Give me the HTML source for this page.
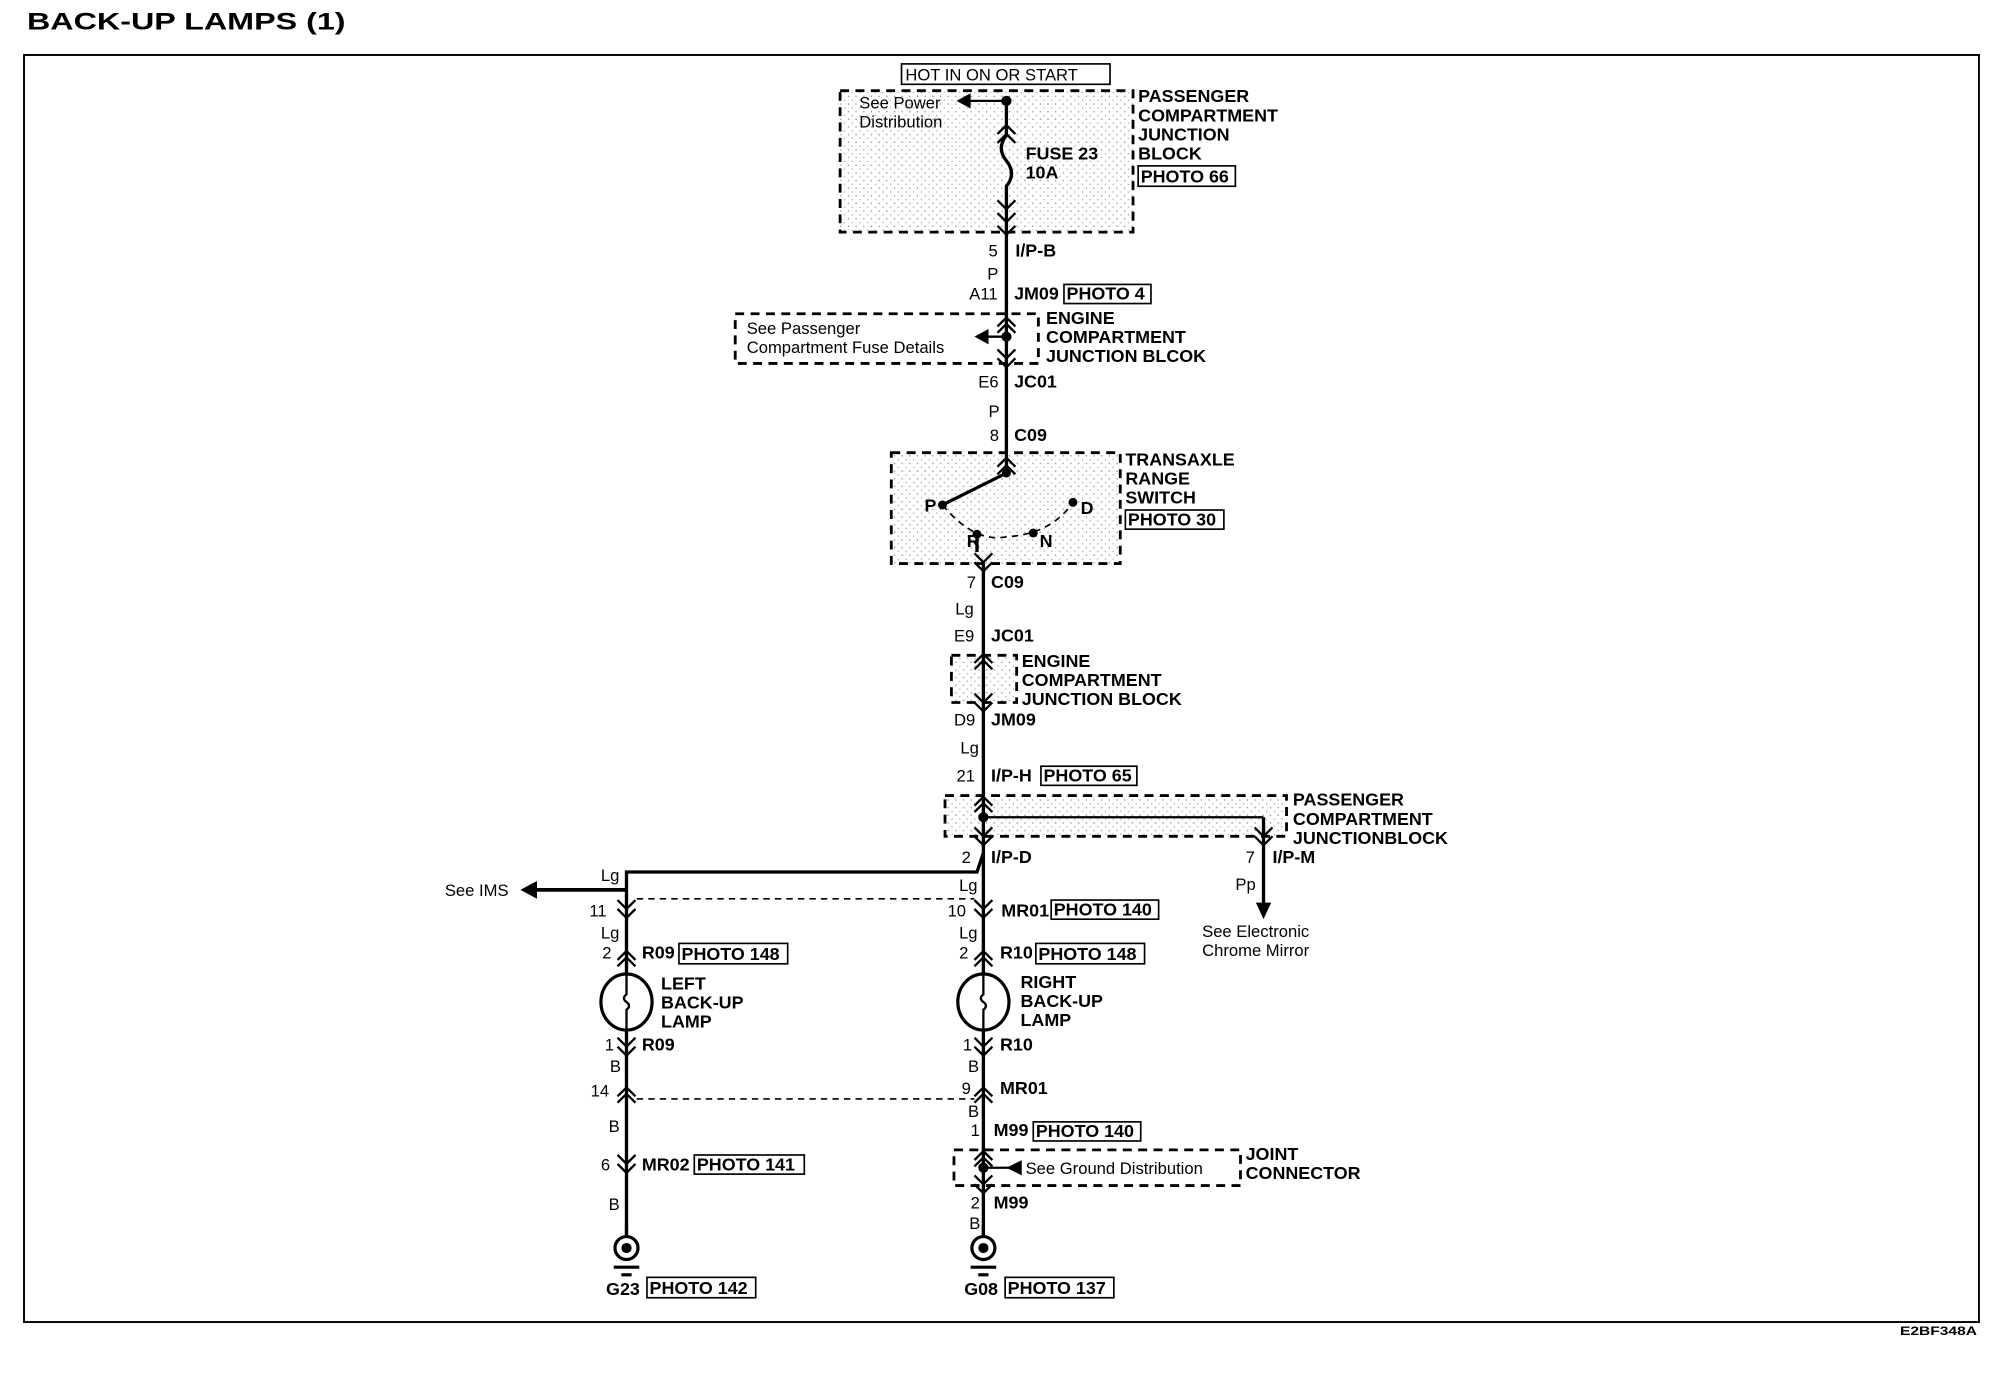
<!DOCTYPE html>
<html><head><meta charset="utf-8"><style>
html,body{margin:0;padding:0;background:#fff;}
svg{display:block;}
text{font-family:"Liberation Sans Narrow","Liberation Sans",sans-serif;fill:#000;}
.b{font-weight:bold;font-size:14px;}
.n{font-size:13px;}
</style></head><body>
<svg width="2004" height="1376" viewBox="0 0 1560 1071" preserveAspectRatio="none" xmlns="http://www.w3.org/2000/svg">
<defs>
<pattern id="dots" width="6" height="6" patternUnits="userSpaceOnUse">
<rect x="1" y="2" width="1" height="1" fill="#888"/><rect x="4" y="5" width="1" height="1" fill="#aaa"/>
</pattern>
</defs>
<text x="21" y="23" style="font-weight:bold;font-size:19px" textLength="248" lengthAdjust="spacingAndGlyphs">BACK-UP LAMPS (1)</text>
<rect x="18.7" y="42.8" width="1521.8" height="986.2" fill="none" stroke="#000" stroke-width="1.5"/>
<text x="1479" y="1039" style="font-weight:bold;font-size:9px" textLength="60" lengthAdjust="spacingAndGlyphs">E2BF348A</text>

<g transform="matrix(0.99575 0 0 0.9921 1.77 1.13)">
<g fill="none" stroke="#000" stroke-width="2.2" stroke-dasharray="7,5">
<rect x="655" y="70" width="229" height="111" fill="url(#dots)"/>
<rect x="573" y="245" width="237" height="39"/>
<rect x="695" y="354" width="179" height="87" fill="url(#dots)"/>
<rect x="742" y="513" width="51" height="37" fill="url(#dots)"/>
<rect x="737" y="623" width="267" height="32" fill="url(#dots)"/>
<rect x="744" y="901" width="224" height="28"/>
</g>
<g fill="none" stroke="#000" stroke-width="1.3" stroke-dasharray="5,4">
<line x1="496" y1="704" x2="760" y2="704"/>
<line x1="496" y1="861" x2="760" y2="861"/>
<path d="M735 395 Q760 425 785 420 Q820 418 837 393"/>
</g>

<g fill="none" stroke="#000" stroke-width="2.6">
<line x1="785" y1="78" x2="785" y2="105"/>
<path d="M785 105 q-8 10 0 20 q8 10 0 20 v35"/>
<line x1="785" y1="180" x2="785" y2="370"/>
<line x1="785" y1="370" x2="735" y2="395"/>
<line x1="762" y1="418" x2="762" y2="432"/>
<line x1="767" y1="440" x2="767" y2="980"/>
<path d="M767 668 L762 683 L488 683 L488 980"/>
<line x1="767" y1="640" x2="986" y2="640" stroke-width="1.8"/>
<line x1="986" y1="640" x2="986" y2="712"/>
<line x1="785" y1="78" x2="755" y2="78" stroke-width="1.8"/>
<line x1="785" y1="263" x2="770" y2="263" stroke-width="1.8"/>
<line x1="488" y1="697" x2="418" y2="697" stroke-width="3"/>
<line x1="767" y1="915" x2="790" y2="915" stroke-width="1.8"/>
</g>
<g fill="#000">
<circle cx="785" cy="78" r="4"/><circle cx="785" cy="263" r="4"/><circle cx="785" cy="370" r="3.5"/>
<circle cx="735" cy="395" r="3.5"/><circle cx="837" cy="393" r="3.5"/><circle cx="762" cy="418" r="3.5"/><circle cx="806" cy="417" r="3.5"/>
<circle cx="767" cy="640" r="4"/><circle cx="767" cy="915" r="4"/>
<polygon points="746,78 757,72 757,84"/>
<polygon points="760,263 771,257 771,269"/>
<polygon points="405,697 418,690 418,704"/>
<polygon points="986,720 980,707 992,707"/>
<polygon points="785,915 797,909 797,921"/>
</g>

<g fill="none" stroke="#000" stroke-width="1.8">
<path d="M778 104 l7 -7 l7 7 M778 111 l7 -7 l7 7"/>
<path d="M778 156 l7 7 l7 -7 M778 166 l7 7 l7 -7 M778 176 l7 7 l7 -7"/>
<path d="M778 255 l7 -7 l7 7 M778 260 l7 -7 l7 7"/>
<path d="M778 273 l7 7 l7 -7 M778 280 l7 7 l7 -7"/>
<path d="M778 365 l7 -7 l7 7 M778 371 l7 -7 l7 7"/>
<path d="M760 433 l7 7 l7 -7 M760 440 l7 7 l7 -7"/>
<path d="M760 519 l7 -7 l7 7 M760 524 l7 -7 l7 7"/>
<path d="M760 543 l7 7 l7 -7 M760 550 l7 7 l7 -7"/>
<path d="M760 631 l7 -7 l7 7 M760 636 l7 -7 l7 7"/>
<path d="M760 648 l7 7 l7 -7 M760 655 l7 7 l7 -7"/>
<path d="M979 648 l7 7 l7 -7 M979 655 l7 7 l7 -7"/>
<path d="M481 705 l7 7 l7 -7 M481 712 l7 7 l7 -7"/>
<path d="M760 705 l7 7 l7 -7 M760 712 l7 7 l7 -7"/>
<path d="M481 752 l7 -7 l7 7 M481 757 l7 -7 l7 7"/>
<path d="M760 752 l7 -7 l7 7 M760 757 l7 -7 l7 7"/>
<path d="M481 813 l7 7 l7 -7 M481 820 l7 7 l7 -7"/>
<path d="M760 813 l7 7 l7 -7 M760 820 l7 7 l7 -7"/>
<path d="M481 859 l7 -7 l7 7 M481 864 l7 -7 l7 7"/>
<path d="M760 859 l7 -7 l7 7 M760 864 l7 -7 l7 7"/>
<path d="M760 909 l7 -7 l7 7 M760 914 l7 -7 l7 7"/>
<path d="M760 921 l7 7 l7 -7 M760 928 l7 7 l7 -7"/>
<path d="M481 905 l7 7 l7 -7 M481 912 l7 7 l7 -7"/>
</g>

<g fill="#fff" stroke="#000" stroke-width="2.5">
<ellipse cx="488" cy="785" rx="20" ry="22"/><ellipse cx="767" cy="785" rx="20" ry="22"/>
</g>
<g fill="none" stroke="#000" stroke-width="1.8">
<path d="M488 764 v15 q-4 3 0 6 q4 3 0 6 v15"/><path d="M767 764 v15 q-4 3 0 6 q4 3 0 6 v15"/>
</g>
<g stroke="#000" fill="#fff" stroke-width="2.5">
<line x1="488" y1="960" x2="488" y2="970"/><line x1="767" y1="960" x2="767" y2="970"/>
<circle cx="488" cy="978" r="9"/><circle cx="767" cy="978" r="9"/>
<line x1="478" y1="993" x2="498" y2="993"/><line x1="484" y1="999" x2="492" y2="999"/>
<line x1="757" y1="993" x2="777" y2="993"/><line x1="763" y1="999" x2="771" y2="999"/>
</g>
<circle cx="488" cy="978" r="4"/><circle cx="767" cy="978" r="4"/>

<g fill="none" stroke="#000" stroke-width="1.3">
<rect x="703" y="49" width="163" height="16"/>
<rect x="888" y="129" width="76" height="16"/>
<rect x="830" y="222" width="68" height="15"/>
<rect x="878" y="399" width="77" height="15"/>
<rect x="812" y="600" width="75" height="15"/>
<rect x="820" y="705" width="84" height="15"/>
<rect x="529" y="739" width="85" height="16"/>
<rect x="808" y="739" width="85" height="16"/>
<rect x="806" y="879" width="84" height="15"/>
<rect x="541" y="905" width="86" height="15"/>
<rect x="504" y="1001" width="85" height="16"/>
<rect x="784" y="1001" width="85" height="16"/>
</g>

<g class="n">
<text x="706" y="62">HOT IN ON OR START</text>
<text x="670" y="84">See Power</text><text x="670" y="99">Distribution</text>
<text x="582" y="261">See Passenger</text><text x="582" y="276">Compartment Fuse Details</text>
<text x="771" y="200">5</text><text x="770" y="218">P</text><text x="756" y="234">A11</text>
<text x="763" y="303">E6</text><text x="771" y="326">P</text><text x="772" y="345">8</text>
<text x="754" y="460">7</text><text x="745" y="481">Lg</text><text x="744" y="502">E9</text>
<text x="744" y="568">D9</text><text x="749" y="590">Lg</text><text x="746" y="612">21</text>
<text x="750" y="676">2</text><text x="972" y="676">7</text><text x="964" y="697">Pp</text>
<text x="938" y="734">See Electronic</text><text x="938" y="749">Chrome Mirror</text>
<text x="346" y="702">See IMS</text><text x="468" y="690">Lg</text><text x="748" y="698">Lg</text>
<text x="459" y="718">11</text><text x="739" y="718">10</text>
<text x="468" y="735">Lg</text><text x="748" y="735">Lg</text>
<text x="469" y="751">2</text><text x="748" y="751">2</text>
<text x="471" y="823">1</text><text x="751" y="823">1</text>
<text x="475" y="840">B</text><text x="755" y="840">B</text>
<text x="460" y="859">14</text><text x="750" y="857">9</text>
<text x="474" y="887">B</text><text x="755" y="875">B</text>
<text x="757" y="890">1</text><text x="468" y="917">6</text>
<text x="800" y="920">See Ground  Distribution</text>
<text x="757" y="947">2</text><text x="756" y="963">B</text><text x="474" y="948">B</text>
</g>
<g class="b">
<text x="888" y="79">PASSENGER</text><text x="888" y="94">COMPARTMENT</text><text x="888" y="109">JUNCTION</text><text x="888" y="124">BLOCK</text><text x="890" y="142">PHOTO 66</text>
<text x="800" y="124">FUSE 23</text><text x="800" y="139">10A</text>
<text x="792" y="200">I/P-B</text><text x="791" y="234">JM09</text><text x="832" y="234">PHOTO 4</text>
<text x="816" y="253">ENGINE</text><text x="816" y="268">COMPARTMENT</text><text x="816" y="283">JUNCTION BLCOK</text>
<text x="791" y="303">JC01</text><text x="791" y="345">C09</text>
<text x="878" y="364">TRANSAXLE</text><text x="878" y="379">RANGE</text><text x="878" y="394">SWITCH</text><text x="880" y="411">PHOTO 30</text>
<text x="721" y="400">P</text><text x="843" y="402">D</text><text x="754" y="428">R</text><text x="811" y="428">N</text>
<text x="773" y="460">C09</text><text x="773" y="502">JC01</text>
<text x="797" y="522">ENGINE</text><text x="797" y="537">COMPARTMENT</text><text x="797" y="552">JUNCTION BLOCK</text>
<text x="773" y="568">JM09</text><text x="773" y="612">I/P-H</text><text x="814" y="612">PHOTO 65</text>
<text x="1009" y="631">PASSENGER</text><text x="1009" y="646">COMPARTMENT</text><text x="1009" y="661">JUNCTIONBLOCK</text>
<text x="773" y="676">I/P-D</text><text x="993" y="676">I/P-M</text>
<text x="781" y="718">MR01</text><text x="822" y="717">PHOTO 140</text>
<text x="500" y="751">R09</text><text x="531" y="752">PHOTO 148</text>
<text x="780" y="751">R10</text><text x="810" y="752">PHOTO 148</text>
<text x="515" y="775">LEFT</text><text x="515" y="790">BACK-UP</text><text x="515" y="805">LAMP</text>
<text x="796" y="774">RIGHT</text><text x="796" y="789">BACK-UP</text><text x="796" y="804">LAMP</text>
<text x="500" y="823">R09</text><text x="780" y="823">R10</text>
<text x="780" y="857">MR01</text>
<text x="775" y="890">M99</text><text x="808" y="891">PHOTO 140</text>
<text x="972" y="909">JOINT</text><text x="972" y="924">CONNECTOR</text>
<text x="500" y="917">MR02</text><text x="543" y="917">PHOTO 141</text>
<text x="775" y="947">M99</text>
<text x="472" y="1015">G23</text><text x="506" y="1014">PHOTO 142</text>
<text x="752" y="1015">G08</text><text x="786" y="1014">PHOTO 137</text>
</g>
</g>
</svg>
</body></html>
